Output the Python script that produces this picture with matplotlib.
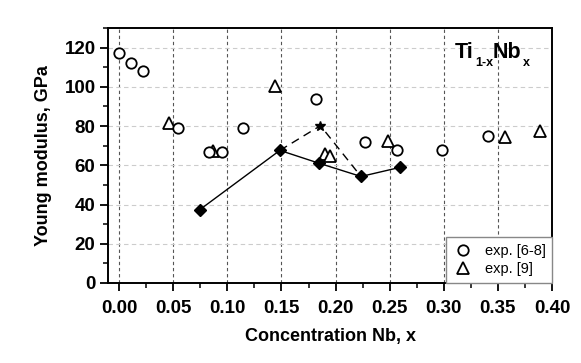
import matplotlib
matplotlib.use("Agg")
import matplotlib.pyplot as plt
from matplotlib.ticker import MultipleLocator

# exp. [6-8]
circ_x = [0.000, 0.0107, 0.022, 0.054, 0.083, 0.0954, 0.114, 0.182, 0.2275, 0.257, 0.298, 0.341]
circ_y = [117, 112, 108, 79, 67, 67, 79, 94, 72, 68, 68, 75]

# exp. [9]
tri_x = [0.046, 0.087, 0.144, 0.190, 0.195, 0.248, 0.357, 0.389]
tri_y = [81.5, 67.5, 100.5, 66, 64.5, 72.5, 74.4, 77.6]

# calculated (solid)
calc_x = [0.0743, 0.1485, 0.185, 0.2235, 0.260]
calc_y = [37.3, 67.6, 61, 54.3, 59]

# calculated alternative (dashed, star)
alt_x = [0.1485, 0.186, 0.2235]
alt_y = [67.6, 80.2, 54.3]

xticks = [0.00, 0.05, 0.10, 0.15, 0.20, 0.25, 0.30, 0.35, 0.40]
yticks = [0, 20, 40, 60, 80, 100, 120]

plt.rcParams['font.family'] = ['Liberation Sans', 'DejaVu Sans']

W, H = 581, 363
fig = plt.figure(figsize=(W / 100, H / 100), dpi=100)
ax = fig.add_axes([0.186, 0.2204, 0.764, 0.7025])

ax.set_xlim(-0.0103, 0.40)
ax.set_ylim(0, 130)

for xv in xticks:
    ax.axvline(xv, color='#555555', lw=0.8, ls=(0, (3, 2.5)), zorder=0)
for yv in yticks:
    ax.axhline(yv, color='#cccccc', lw=0.8, ls=(0, (4, 3)), zorder=0)

ax.plot(calc_x, calc_y, color='black', lw=1.0, marker='D', ms=6.5,
        mfc='black', mec='black', zorder=4)
ax.plot(alt_x, alt_y, color='black', lw=1.0, ls=(0, (6, 4)), zorder=3)
ax.plot([alt_x[1]], [alt_y[1]], ls='none', marker='*', ms=7.5, color='black', zorder=5)

ax.plot(tri_x, tri_y, ls='none', marker='^', ms=8, mfc='white', mec='black',
        mew=1.3, zorder=3, label='exp. [9]')
ax.plot(circ_x, circ_y, ls='none', marker='o', ms=7.5, mfc='white', mec='black',
        mew=1.3, zorder=3, label='exp. [6-8]')

ax.set_xticks(xticks)
ax.set_xticklabels([f"{v:.2f}" for v in xticks])
ax.set_yticks(yticks)
ax.xaxis.set_minor_locator(MultipleLocator(0.025))
ax.yaxis.set_minor_locator(MultipleLocator(10))
ax.tick_params(which='major', direction='out', length=6, width=1.3, labelsize=13.5, pad=3)
ax.tick_params(axis='x', which='major', pad=6)
ax.tick_params(which='minor', direction='out', length=3.5, width=1.1)
for lab in ax.get_xticklabels() + ax.get_yticklabels():
    lab.set_fontweight('bold')
for sp in ax.spines.values():
    sp.set_linewidth(1.4)

ax.set_xlabel('Concentration Nb, x', fontsize=13, fontweight='bold', labelpad=8)
ax.set_ylabel('Young modulus, GPa', fontsize=13, fontweight='bold', labelpad=9)

# Ti(1-x)Nb(x) label, built from pieces
def ptext(px, py, s, size):
    fig.text(px / W, 1 - py / H, s, fontsize=size, fontweight='bold',
             ha='left', va='baseline')

ptext(455, 58, 'Ti', 15.5)
ptext(475, 66.5, '1-x', 9)
ptext(493, 58, 'Nb', 15.5)
ptext(523, 66.5, 'x', 9)

h, l = ax.get_legend_handles_labels()
leg = ax.legend(h[::-1], l[::-1], loc='lower right', fontsize=10.5, frameon=True,
                fancybox=False, edgecolor='#888888', framealpha=1,
                borderaxespad=0, handletextpad=0.7, handlelength=1.5,
                labelspacing=0.3, borderpad=0.45)
leg.get_frame().set_linewidth(1.0)

fig.savefig('out.png', dpi=100)
